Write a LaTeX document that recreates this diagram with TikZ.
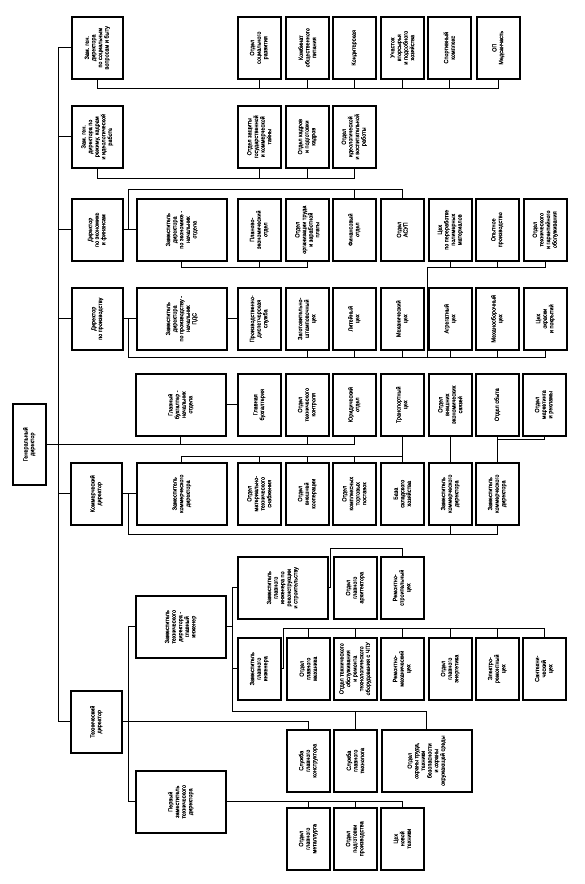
\documentclass[tikz,border=0pt]{standalone}
\usepackage{fontspec}
\usepackage{tikz}
\usetikzlibrary{positioning, calc}
\newfontfamily\orgfont[FakeStretch=0.92, FakeBold=0.5]{Liberation Sans}
\newcommand{\vt}[2][58pt]{\rotatebox{90}{\parbox{#1}{\centering #2}}}

\begin{document}
\begin{tikzpicture}[
    x=1pt, y=-1pt,
    box/.style={draw, line width=1.5pt, anchor=north west, inner sep=0pt,
        font=\orgfont\fontsize{6}{6.6}\selectfont},
    sbox/.style={box, minimum width=43pt, minimum height=62pt},
    dbox/.style={box, minimum width=51pt, minimum height=62pt},
    wbox/.style={box, minimum width=90pt, minimum height=62pt},
    conn/.style={line width=0.8pt}
]
    \useasboundingbox[fill=white] (0,0) rectangle (584,884);
    \node[box, minimum width=33pt, minimum height=81pt] (gd) at (12,403) {\vt[70pt]{Генеральный\\директор}};

    \node[dbox] (d1) at (71,16) {\vt{Зам. ген.\\директора\\по социальным\\вопросам и быту}};
    \node[sbox] (c11) at (237,16) {\vt{Отдел\\социального\\развития}};
    \node[sbox] (c12) at (285,16) {\vt{Комбинат\\общественного\\питания}};
    \node[sbox] (c13) at (332,16) {\vt{Кондитерская}};
    \node[sbox] (c14) at (380,16) {\vt{Участок\\вторсырья\\и подсобного\\хозяйства}};
    \node[sbox] (c15) at (427,16) {\vt{Спортивный\\комплекс}};
    \node[sbox] (c16) at (476,16) {\vt{ОП\\Медсанчасть}};

    \node[dbox] (d2) at (71,105) {\vt{Зам. ген.\\директора по\\режиму, кадрам\\и идеологической\\работе}};
    \node[sbox] (c21) at (237,105) {\vt{Отдел защиты\\государственной\\и коммерческой\\тайны}};
    \node[sbox] (c22) at (285,105) {\vt{Отдел кадров\\и подготовки\\кадров}};
    \node[sbox] (c23) at (332,105) {\vt{Отдел\\идеологической\\и воспитательной\\работы}};

    \node[dbox] (d3) at (71,198) {\vt{Директор\\по экономике\\и финансам}};
    \node[wbox] (z3) at (136,198) {\vt{Заместитель\\директора\\по экономике -\\начальник\\отдела}};
    \node[sbox] (c31) at (237,198) {\vt{Планово-\\экономический\\отдел}};
    \node[sbox] (c32) at (285,198) {\vt{Отдел\\организации труда\\и заработной\\платы}};
    \node[sbox] (c33) at (332,198) {\vt{Финансовый\\отдел}};
    \node[sbox] (c34) at (380,198) {\vt{Отдел\\АСУП}};
    \node[sbox] (c35) at (428,198) {\vt{Цех\\по переработке\\полимерных\\материалов}};
    \node[sbox] (c36) at (475,198) {\vt{Опытное\\производство}};
    \node[sbox] (c37) at (523,198) {\vt{Отдел\\технического\\и гарантийного\\обслуживания}};

    \node[dbox] (d4) at (71,287) {\vt{Директор\\по производству}};
    \node[wbox] (z4) at (136,287) {\vt{Заместитель\\директора\\по производству -\\начальник\\ПДС}};
    \node[sbox] (c41) at (237,287) {\vt{Производственно-\\диспетчерская\\служба}};
    \node[sbox] (c42) at (285,287) {\vt{Заготовительно-\\штамповочный\\цех}};
    \node[sbox] (c43) at (332,287) {\vt{Литейный\\цех}};
    \node[sbox] (c44) at (380,287) {\vt{Механический\\цех}};
    \node[sbox] (c45) at (428,287) {\vt{Агрегатный\\цех}};
    \node[sbox] (c46) at (475,287) {\vt{Механосборочный\\цех}};
    \node[sbox] (c47) at (523,287) {\vt{Цех\\окраски\\и покрытий}};

    \node[wbox] (gb) at (135,373) {\vt{Главный\\бухгалтер -\\начальник\\отдела}};
    \node[sbox] (c51) at (237,373) {\vt{Главная\\бухгалтерия}};
    \node[sbox] (c52) at (285,373) {\vt{Отдел\\технического\\контроля}};
    \node[sbox] (c53) at (332,373) {\vt{Юридический\\отдел}};
    \node[sbox] (c54) at (380,373) {\vt{Транспортный\\цех}};
    \node[sbox] (c55) at (428,373) {\vt{Отдел\\внешних\\экономических\\связей}};
    \node[sbox] (c56) at (475,373) {\vt{Отдел сбыта}};
    \node[sbox] (c57) at (522,373) {\vt{Отдел\\маркетинга\\и рекламы}};

    \node[dbox] (d6) at (70,462) {\vt{Коммерческий\\директор}};
    \node[wbox] (z6) at (136,462) {\vt{Заместитель\\коммерческого\\директора}};
    \node[sbox] (c61) at (237,462) {\vt{Отдел\\материально-\\технического\\снабжения}};
    \node[sbox] (c62) at (285,462) {\vt{Отдел\\внешней\\кооперации}};
    \node[sbox] (c63) at (332,462) {\vt{Отдел\\комплексных\\торговых\\поставок}};
    \node[sbox] (c64) at (380,462) {\vt{База\\складского\\хозяйства}};
    \node[sbox] (c65) at (428,462) {\vt{Заместитель\\коммерческого\\директора}};
    \node[sbox] (c66) at (475,462) {\vt{Заместитель\\коммерческого\\директора}};

    \node[wbox] (zr) at (237,556) {\vt{Заместитель\\главного\\инженера по\\реконструкции\\и строительству}};
    \node[sbox] (oa) at (333,556) {\vt{Отдел\\главного\\архитектора}};
    \node[sbox] (rs) at (380,556) {\vt{Ремонтно-\\строительный\\цех}};
    \node[wbox] (zt) at (135,595) {\vt{Заместитель\\технического\\директора -\\главный\\инженер}};
    \node[sbox] (zg) at (237,637) {\vt{Заместитель\\главного\\инженера}};
    \node[sbox] (c72) at (286,637) {\vt{Отдел\\главного\\механика}};
    \node[sbox] (c73) at (333,637) {\vt{Отдел технического\\обслуживания\\и ремонта\\технологического\\оборудования с ЧПУ}};
    \node[sbox] (c74) at (380,637) {\vt{Ремонтно-\\механический\\цех}};
    \node[sbox] (c75) at (428,637) {\vt{Отдел\\главного\\энергетика}};
    \node[sbox] (c76) at (475,637) {\vt{Электро-\\ремонтный\\цех}};
    \node[sbox] (c77) at (522,637) {\vt{Сантехни-\\ческий\\цех}};
    \node[dbox] (d7) at (70,690) {\vt{Технический\\директор}};
    \node[sbox] (k1) at (286,729) {\vt{Служба\\главного\\конструктора}};
    \node[sbox] (k2) at (333,729) {\vt{Служба\\главного\\технолога}};
    \node[wbox] (k3) at (381,729) {\vt{Отдел\\охраны труда,\\техники\\безопасности\\и охраны\\окружающей среды}};
    \node[wbox] (pz) at (135,770) {\vt{Первый\\заместитель\\технического\\директора}};
    \node[sbox] (m1) at (286,807) {\vt{Отдел\\главного\\металлурга}};
    \node[sbox] (m2) at (333,807) {\vt{Отдел\\подготовки\\производства}};
    \node[sbox] (m3) at (380,807) {\vt{Цех\\новой\\техники}};

    \coordinate (tr) at (58,0);
    \coordinate (v) at (128,0);
    \coordinate (w) at (232,0);
    \coordinate (b1) at (0,88);
    \coordinate (b2) at (0,178);
    \coordinate (b3t) at (0,189);
    \coordinate (b3b) at (0,267);
    \coordinate (x3) at (427,0);
    \coordinate (b4) at (0,357);
    \coordinate (b5) at (0,439);
    \coordinate (b6t) at (0,456);
    \coordinate (b6b) at (0,534);
    \coordinate (u) at (330.5,548);
    \coordinate (g) at (283.5,628);
    \coordinate (b7) at (0,711);

    \draw[conn] (d1.west -| tr) -- (d7.west -| tr);
    \foreach \n in {d1,d2,d3,d4,d6,d7} {\draw[conn] (\n.west -| tr) -- (\n.west);}
    \draw[conn] (gd.east) -- (gd.east -| c53.south) -- (c53.south);
    \foreach \n in {gb,c52} {\draw[conn] (\n.south) -- (\n.south |- gd.east);}

    \draw[conn] (d1.south) |- (c16.south |- b1) -- (c16.south);
    \foreach \n in {c11,c12,c13,c14,c15} {\draw[conn] (\n.south) -- (\n.south |- b1);}

    \draw[conn] (d2.south) |- (c23.south |- b2) -- (c23.south);
    \foreach \n in {c21,c22} {\draw[conn] (\n.south) -- (\n.south |- b2);}

    \draw[conn] (d3.east) -- (z3.west);
    \draw[conn] (d3.east -| v) |- (c34.north |- b3t) -- (c34.north);
    \draw[conn] (c33.north) -- (c33.north |- b3t);
    \draw[conn] (z3.south) |- (c32.south |- b3b) -- (c32.south);
    \draw[conn] (c31.south) -- (c31.south |- b3b);
    \draw[conn] (c37.south) |- (x3 |- b3b) -- (x3 |- b4);
    \foreach \n in {c35,c36} {\draw[conn] (\n.south) -- (\n.south |- b3b);}

    \draw[conn] (d4.east) -- (z4.west);
    \draw[conn] (z4.east) -- (c41.west);
    \draw[conn] (d4.east -| v) |- (c47.south |- b4) -- (c47.south);
    \foreach \n in {c42,c43,c44,c45,c46} {\draw[conn] (\n.south) -- (\n.south |- b4);}

    \draw[conn] (gb.east) -- (c51.west);
    \draw[conn] (c54.south) -- (c54.south |- b6t);
    \draw[conn] (c55.south) -- (c65.north);
    \draw[conn] (c56.south) -- (c66.north);
    \draw[conn] (c57.south) -- (c57.south |- b5) -- (c56.south |- b5);

    \draw[conn] (d6.east) -- (z6.west);
    \draw[conn] (z6.north) |- (c64.north |- b6t) -- (c64.north);
    \foreach \n in {c61,c62,c63} {\draw[conn] (\n.north) -- (\n.north |- b6t);}
    \draw[conn] (d6.east -| v) |- (c66.south |- b6b) -- (c66.south);
    \draw[conn] (c65.south) -- (c65.south |- b6b);

    \draw[conn] (d7.east) -| (k1.north);
    \draw[conn] (zt.west) -- (zt.west -| v) -- (pz.west -| v) -- (pz.west);
    \draw[conn] (zt.east) -- (zt.east -| w);
    \draw[conn] (zr.west) -- (zr.west -| w) -- (w |- b7) -- (k3.north |- b7) -- (k3.north);
    \draw[conn] (zg.west) -- (zg.west -| w);
    \draw[conn] (k2.north) -- (k2.north |- b7);
    \draw[conn] (zr.east) -- (zr.east -| u) |- (rs.north |- u) -- (rs.north);
    \draw[conn] (zg.east) -- (zg.east -| g) |- (c77.north |- g) -- (c77.north);
    \foreach \n in {c72,c73,c74,c75,c76} {\draw[conn] (\n.north) -- (\n.north |- g);}
    \draw[conn] (pz.east) -- (pz.east -| m3.north) -- (m3.north);
    \foreach \n in {m1,m2} {\draw[conn] (\n.north) -- (\n.north |- pz.east);}
\end{tikzpicture}
\end{document}
